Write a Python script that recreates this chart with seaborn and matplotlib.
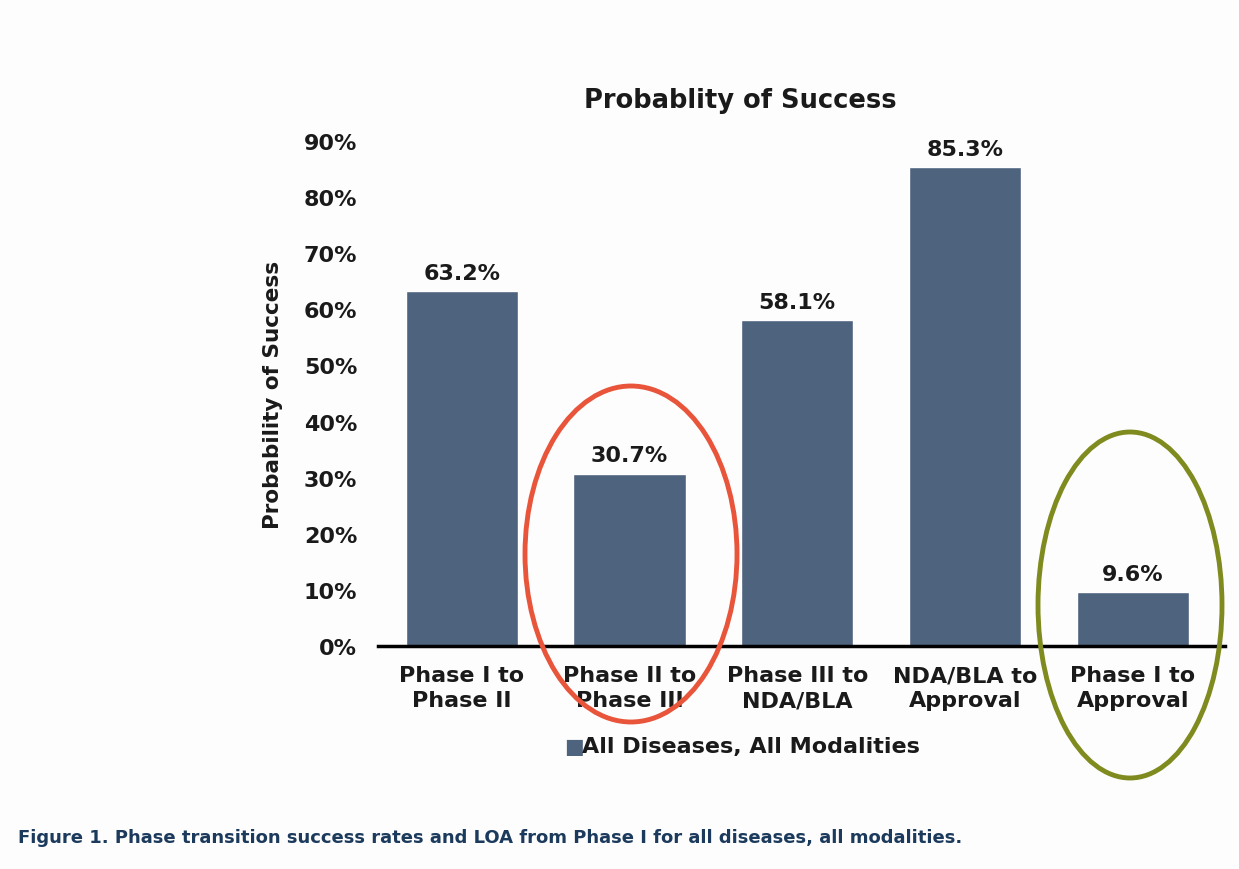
import matplotlib
matplotlib.use('Agg')
import matplotlib.pyplot as plt
from matplotlib.patches import Ellipse
import seaborn as sns
import pandas as pd

phases = ['Phase I to\nPhase II', 'Phase II to\nPhase III', 'Phase III to\nNDA/BLA',
          'NDA/BLA to\nApproval', 'Phase I to\nApproval']
success = [63.2, 30.7, 58.1, 85.3, 9.6]
series_name = 'All Diseases, All Modalities'
bar_color = '#4e637e'

df = pd.DataFrame({'phase': phases, 'success': success, 'series': series_name})

sns.set_style('white')
plt.rcParams['font.family'] = ['DejaVu Sans']

fig = plt.figure(figsize=(12.39, 8.7), dpi=100, facecolor='#fdfdfe')
ax = fig.add_axes([378 / 1239, 1 - 647 / 870, 847 / 1239, 505 / 870])
ax.set_facecolor('none')

sns.barplot(data=df, x='phase', y='success', hue='series', palette=[bar_color],
            width=0.67, saturation=1, ax=ax, legend=False)

for i, v in enumerate(success):
    ax.text(i, v + 1.5, f'{v}%', ha='center', va='bottom', fontsize=16, fontweight='bold',
            color='#1a1a1a')

ax.set_ylim(0, 90)
ax.set_xlim(-0.5, 4.55)
ax.set_yticks(range(0, 91, 10))
ax.set_yticklabels([f'{t}%' for t in range(0, 91, 10)], fontsize=16, fontweight='bold',
                   color='#1a1a1a')
ax.set_xticks(range(len(phases)))
ax.set_xticklabels(phases, fontsize=16, fontweight='bold', color='#1a1a1a', linespacing=1.3)
ax.tick_params(axis='both', length=0)
ax.tick_params(axis='y', pad=15)
ax.tick_params(axis='x', pad=14)
for s in ['top', 'right', 'left']:
    ax.spines[s].set_visible(False)
ax.spines['bottom'].set_color('black')
ax.spines['bottom'].set_linewidth(2.5)
ax.set_xlabel('')
ax.set_ylabel('Probability of Success', fontsize=15.5, fontweight='bold', color='#1a1a1a',
              labelpad=15)

fig.text(740 / 1239, 1 - 101 / 870, 'Probablity of Success', ha='center', va='center',
         fontsize=18.5, fontweight='bold', color='#1a1a1a')

# legend
fig.text(574 / 1239, 1 - 747 / 870, '\u25a0', ha='center', va='center', fontsize=15,
         color=bar_color)
fig.text(582 / 1239, 1 - 747 / 870, series_name, ha='left', va='center', fontsize=16,
         fontweight='bold', color='#1a1a1a')

fig.text(18 / 1239, 1 - 838 / 870,
         'Figure 1. Phase transition success rates and LOA from Phase I for all diseases, all modalities.',
         ha='left', va='center', fontsize=13, fontweight='bold', color='#1b3a5c',
         family=['Liberation Sans Narrow', 'DejaVu Sans'])

# highlight ellipses
fig.patches.append(Ellipse((631 / 1239, 1 - 555 / 870), 212 / 1239, 336 / 870,
                           transform=fig.transFigure, fill=False, edgecolor='#e8553a',
                           linewidth=3.5))
fig.patches.append(Ellipse((1130 / 1239, 1 - 606 / 870), 184 / 1239, 346 / 870,
                           transform=fig.transFigure, fill=False, edgecolor='#7f8b1e',
                           linewidth=3.5))

fig.savefig('out.png', dpi=100, facecolor=fig.get_facecolor())
